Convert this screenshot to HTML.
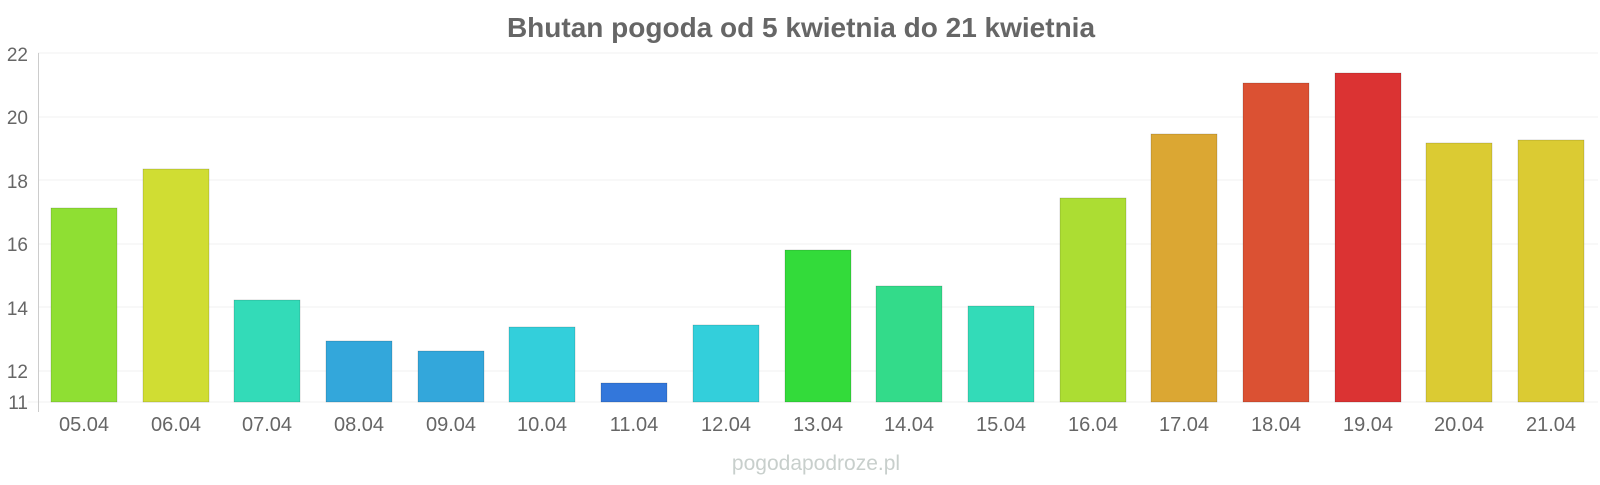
<!DOCTYPE html>
<html><head><meta charset="utf-8"><style>
body{margin:0;background:#fff;}
svg text{font-family:"Liberation Sans",sans-serif;}
</style></head><body>
<svg width="1600" height="480" xmlns="http://www.w3.org/2000/svg">
<text x="801" y="37" text-anchor="middle" font-size="28" font-weight="bold" fill="#666">Bhutan pogoda od 5 kwietnia do 21 kwietnia</text>
<g stroke="#f2f2f2" stroke-width="1">
<line x1="38" x2="1598" y1="53" y2="53"/><line x1="38" x2="1598" y1="117" y2="117"/>
<line x1="38" x2="1598" y1="180" y2="180"/><line x1="38" x2="1598" y1="244" y2="244"/>
<line x1="38" x2="1598" y1="307" y2="307"/><line x1="38" x2="1598" y1="371" y2="371"/>
<line x1="28" x2="1598" y1="402" y2="402"/>
</g>
<line x1="38.5" x2="38.5" y1="53" y2="412" stroke="#ccc"/>
<g font-size="19" fill="#666" text-anchor="end">
<text x="28" y="61">22</text><text x="28" y="124">20</text><text x="28" y="188">18</text>
<text x="28" y="251">16</text><text x="28" y="315">14</text><text x="28" y="378">12</text><text x="28" y="409">11</text>
</g>
<g stroke-opacity="0.3" stroke="#000" stroke-width="0.5">
<rect x="51" y="208" width="66" height="194" fill="#8fdf33"/>
<rect x="143" y="169" width="66" height="233" fill="#d0dd33"/>
<rect x="234" y="300" width="66" height="102" fill="#33dbb8"/>
<rect x="326" y="341" width="66" height="61" fill="#33a7db"/>
<rect x="418" y="351" width="66" height="51" fill="#33a7db"/>
<rect x="509" y="327" width="66" height="75" fill="#33cfdb"/>
<rect x="601" y="383" width="66" height="19" fill="#3377db"/>
<rect x="693" y="325" width="66" height="77" fill="#33cfdb"/>
<rect x="785" y="250" width="66" height="152" fill="#33db3a"/>
<rect x="876" y="286" width="66" height="116" fill="#33db8a"/>
<rect x="968" y="306" width="66" height="96" fill="#33dbb8"/>
<rect x="1060" y="198" width="66" height="204" fill="#acdd33"/>
<rect x="1151" y="134" width="66" height="268" fill="#dba733"/>
<rect x="1243" y="83" width="66" height="319" fill="#db5133"/>
<rect x="1335" y="73" width="66" height="329" fill="#db3333"/>
<rect x="1426" y="143" width="66" height="259" fill="#dbcb33"/>
<rect x="1518" y="140" width="66" height="262" fill="#dbcb33"/>
</g>
<g font-size="20" fill="#666" text-anchor="middle">
<text x="84" y="431">05.04</text><text x="176" y="431">06.04</text><text x="267" y="431">07.04</text>
<text x="359" y="431">08.04</text><text x="451" y="431">09.04</text><text x="542" y="431">10.04</text>
<text x="634" y="431">11.04</text><text x="726" y="431">12.04</text><text x="818" y="431">13.04</text>
<text x="909" y="431">14.04</text><text x="1001" y="431">15.04</text><text x="1093" y="431">16.04</text>
<text x="1184" y="431">17.04</text><text x="1276" y="431">18.04</text><text x="1368" y="431">19.04</text>
<text x="1459" y="431">20.04</text><text x="1551" y="431">21.04</text>
</g>
<text x="816" y="470" text-anchor="middle" font-size="21" fill="#c8cfcc">pogodapodroze.pl</text>
</svg>
</body></html>
